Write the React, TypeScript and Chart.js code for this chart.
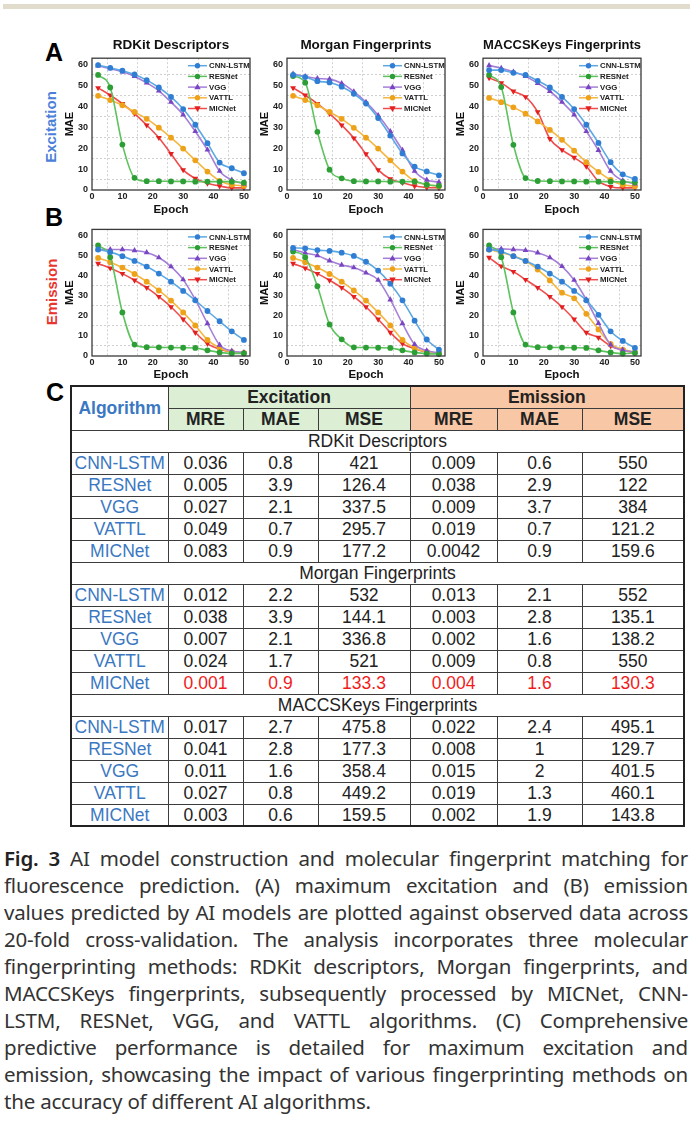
import React, { useEffect, useRef } from 'react';
import { Chart, registerables } from 'chart.js';

Chart.register(...registerables);

const FONT = "'Liberation Sans', Arial, Helvetica, sans-serif";

// ---------- chart data ----------
const EPOCHS = [2, 6, 10, 14, 18, 22, 26, 30, 34, 38, 42, 46, 50];
const MODELS = ['CNN-LSTM', 'RESNet', 'VGG', 'VATTL', 'MICNet'];
const FINGERPRINTS = ['RDKit Descriptors', 'Morgan Fingerprints', 'MACCSKeys Fingerprints'];
const X_MIN = 0, X_MAX = 52, X_STEP = 10;
const Y_MIN = 0, Y_MAX = 63, Y_STEP = 10;

// (A) Excitation
const EX_RDKIT_CNN = [59.7, 58.4, 57, 55.2, 52.5, 49, 44.5, 38.7, 31.2, 22.4, 13.1, 10.4, 8];
const EX_RDKIT_RES = [55, 49, 21.7, 5.8, 4.2, 4.2, 4.1, 4.1, 4, 4, 4, 4, 3.5];
const EX_RDKIT_VGG = [59.4, 58, 56.5, 54.3, 51.2, 47.4, 42, 36, 28, 19.2, 9, 4.8, 3];
const EX_RDKIT_VATTL = [45, 43, 40.5, 37.3, 34, 29.8, 25, 19.8, 14.2, 8.8, 4.4, 2.5, 2];
const EX_RDKIT_MIC = [48.8, 45.3, 41.3, 36.5, 31, 25, 17.3, 9.6, 5.5, 3.2, 1.9, 1, 1];

const EX_MORGAN_CNN = [55, 54, 52, 51.4, 49.4, 46, 41.3, 34.4, 26, 17.5, 11.2, 8.9, 7];
const EX_MORGAN_RES = [54.5, 51.3, 27.8, 9.7, 5.6, 4.2, 4.1, 4.1, 4, 4, 4, 2.5, 2];
const EX_MORGAN_VGG = [55.5, 54.3, 53.3, 53, 51, 47, 42, 35.7, 28, 19, 9, 4.8, 3.8];
const EX_MORGAN_VATTL = [45, 43, 40.5, 37.3, 34, 29.7, 25, 19.8, 14.2, 8.8, 4.3, 2.5, 1.8];
const EX_MORGAN_MIC = [48.8, 45.3, 41.3, 36.5, 31, 24.8, 17.2, 9.6, 5.3, 3.5, 1.9, 1.2, 1];

const EX_MACCS_CNN = [57.3, 57.3, 56, 55, 52.2, 49, 44.5, 38.7, 31.2, 22.5, 13.3, 7.5, 5.3];
const EX_MACCS_RES = [55, 49.2, 21.6, 5.7, 4.3, 4.2, 4.1, 4.1, 4, 4, 4, 3.8, 3.7];
const EX_MACCS_VGG = [59.5, 58.2, 56.5, 54.3, 51, 47.2, 42, 36, 28, 19, 9, 4.5, 3];
const EX_MACCS_VATTL = [44, 42, 39.5, 36.5, 32.8, 28.7, 24, 18.8, 13.3, 8.7, 4.8, 2.5, 1.8];
const EX_MACCS_MIC = [53.6, 51.2, 47.2, 44.5, 37.3, 24.5, 19.2, 15.5, 11.3, 4.2, 1.6, 1, 1];

// (B) Emission
const EM_RDKIT_CNN = [53, 51.7, 49.7, 47.3, 44.5, 41, 37, 32.4, 27.7, 22.4, 17.3, 12.3, 8];
const EM_RDKIT_RES = [55, 49.2, 21.7, 5.7, 4.4, 4.3, 4.2, 4.1, 4, 2.8, 1.8, 1.3, 1.3];
const EM_RDKIT_VGG = [53, 53, 53, 52.5, 51.5, 49, 44.5, 38, 28, 16.2, 5.5, 2.5, 1.8];
const EM_RDKIT_VATTL = [48.8, 46.7, 44, 40.8, 37, 32.6, 27.6, 21.7, 15.2, 8, 4, 2, 1.5];
const EM_RDKIT_MIC = [46, 43.7, 41, 37.7, 34, 29.5, 24.4, 18.3, 11.7, 6.2, 3.4, 2, 1.5];

const EM_MORGAN_CNN = [53.8, 53.6, 52.7, 52.3, 51.4, 49.8, 46.9, 42.5, 36, 27.7, 17.6, 8.2, 3.2];
const EM_MORGAN_RES = [52, 49.2, 34.7, 15.7, 8.3, 4.3, 4.2, 4.1, 4, 2.8, 1.8, 1.2, 1];
const EM_MORGAN_VGG = [53, 51.3, 50, 47.4, 45.3, 44, 41.4, 37.8, 28, 16.2, 5.8, 2.7, 1.5];
const EM_MORGAN_VATTL = [48.8, 46.7, 44, 40.8, 37, 32.6, 27.6, 21.7, 15.2, 8, 4, 2, 1.5];
const EM_MORGAN_MIC = [46, 43.7, 41, 37.7, 34, 29.5, 24.4, 18.3, 11.7, 6.2, 3.6, 2, 1.5];

const EM_MACCS_CNN = [53, 52, 49.7, 47.3, 44.5, 41, 37, 32.4, 27.7, 20.5, 12.3, 7.5, 4];
const EM_MACCS_RES = [55, 49.2, 21.7, 5.7, 4.4, 4.3, 4.2, 4.1, 4, 2.8, 1.8, 1.2, 1.5];
const EM_MACCS_VGG = [53, 53.3, 53, 52.6, 51.4, 49, 44.6, 37.8, 28, 16.3, 5.6, 3, 2];
const EM_MACCS_VATTL = [53, 51.5, 49.7, 47.3, 43, 37.6, 31.5, 28.7, 21, 13.2, 6, 3.2, 2];
const EM_MACCS_MIC = [49, 44.7, 42, 38, 34, 29.5, 24.4, 18.3, 11.7, 9.2, 5, 3, 1.5];

// ---------- table data (C) ----------
const TABLE_METRICS = ['MRE', 'MAE', 'MSE'];
const RDKIT_ROWS = [
  ['0.036', '0.8', '421', '0.009', '0.6', '550'],
  ['0.005', '3.9', '126.4', '0.038', '2.9', '122'],
  ['0.027', '2.1', '337.5', '0.009', '3.7', '384'],
  ['0.049', '0.7', '295.7', '0.019', '0.7', '121.2'],
  ['0.083', '0.9', '177.2', '0.0042', '0.9', '159.6'],
];
const MORGAN_ROWS = [
  ['0.012', '2.2', '532', '0.013', '2.1', '552'],
  ['0.038', '3.9', '144.1', '0.003', '2.8', '135.1'],
  ['0.007', '2.1', '336.8', '0.002', '1.6', '138.2'],
  ['0.024', '1.7', '521', '0.009', '0.8', '550'],
  ['0.001', '0.9', '133.3', '0.004', '1.6', '130.3'],
];
const MACCS_ROWS = [
  ['0.017', '2.7', '475.8', '0.022', '2.4', '495.1'],
  ['0.041', '2.8', '177.3', '0.008', '1', '129.7'],
  ['0.011', '1.6', '358.4', '0.015', '2', '401.5'],
  ['0.027', '0.8', '449.2', '0.019', '1.3', '460.1'],
  ['0.003', '0.6', '159.5', '0.002', '1.9', '143.8'],
];
const HIGHLIGHT = { group: 1, row: 4 };

const CAPTION_LINES = [
  'AI model construction and molecular fingerprint matching for',
  'fluorescence prediction. (A) maximum excitation and (B) emission',
  'values predicted by AI models are plotted against observed data across',
  '20-fold cross-validation. The analysis incorporates three molecular',
  'fingerprinting methods: RDKit descriptors, Morgan fingerprints, and',
  'MACCSKeys fingerprints, subsequently processed by MICNet, CNN-',
  'LSTM, RESNet, VGG, and VATTL algorithms. (C) Comprehensive',
  'predictive performance is detailed for maximum excitation and',
  'emission, showcasing the impact of various fingerprinting methods on',
  'the accuracy of different AI algorithms.',
];

// ---------- styles ----------
const LINE_COLORS = ['#5ca8e4', '#5ec35e', '#a47fd8', '#f5b740', '#f04c4c'];
const POINT_COLORS = ['#2f7ed3', '#2c9e35', '#7a45c2', '#eea21a', '#e3201f'];
const POINT_SHAPES = ['circle', 'circle', 'triangle', 'circle', 'triangle'];
const POINT_ROT = [0, 0, 0, 0, 180];

const PANELS = [
  { row: 0, col: 0, title: FINGERPRINTS[0], series: [EX_RDKIT_CNN, EX_RDKIT_RES, EX_RDKIT_VGG, EX_RDKIT_VATTL, EX_RDKIT_MIC] },
  { row: 0, col: 1, title: FINGERPRINTS[1], series: [EX_MORGAN_CNN, EX_MORGAN_RES, EX_MORGAN_VGG, EX_MORGAN_VATTL, EX_MORGAN_MIC] },
  { row: 0, col: 2, title: FINGERPRINTS[2], series: [EX_MACCS_CNN, EX_MACCS_RES, EX_MACCS_VGG, EX_MACCS_VATTL, EX_MACCS_MIC] },
  { row: 1, col: 0, title: '', series: [EM_RDKIT_CNN, EM_RDKIT_RES, EM_RDKIT_VGG, EM_RDKIT_VATTL, EM_RDKIT_MIC] },
  { row: 1, col: 1, title: '', series: [EM_MORGAN_CNN, EM_MORGAN_RES, EM_MORGAN_VGG, EM_MORGAN_VATTL, EM_MORGAN_MIC] },
  { row: 1, col: 2, title: '', series: [EM_MACCS_CNN, EM_MACCS_RES, EM_MACCS_VGG, EM_MACCS_VATTL, EM_MACCS_MIC] },
];

const PLOT_LEFTS = [92, 287, 483];
const ROW_TOPS = [58, 224];
const PLOT_W = 158;
const PLOT_H = 132;
const Y_AXIS_W = 32;
const PAD_R = 4;
const TITLE_H = 23;
const NO_TITLE_PAD = 4;

function drawMarker(ctx: CanvasRenderingContext2D, shape: string, rot: number, x: number, y: number, r: number, color: string) {
  ctx.save();
  ctx.fillStyle = color;
  ctx.translate(x, y);
  ctx.rotate((rot * Math.PI) / 180);
  ctx.beginPath();
  if (shape === 'triangle') {
    const s = r * 1.25;
    ctx.moveTo(0, -s);
    ctx.lineTo(s * 0.95, s * 0.65);
    ctx.lineTo(-s * 0.95, s * 0.65);
    ctx.closePath();
  } else {
    ctx.arc(0, 0, r, 0, Math.PI * 2);
  }
  ctx.fill();
  ctx.restore();
}

const framePlugin = {
  id: 'frameAndLegend',
  afterDatasetsDraw(chart: any) {
    const { ctx, chartArea } = chart;
    ctx.save();
    ctx.strokeStyle = '#3a3a3a';
    ctx.lineWidth = 1.3;
    ctx.strokeRect(chartArea.left, chartArea.top, chartArea.right - chartArea.left, chartArea.bottom - chartArea.top);
    ctx.font = `bold 7.8px ${FONT}`;
    ctx.textBaseline = 'middle';
    ctx.textAlign = 'left';
    chart.data.datasets.forEach((ds: any, i: number) => {
      const y = chartArea.top + 7.5 + i * 10.7;
      const x0 = chartArea.right - 62;
      const x1 = chartArea.right - 43;
      ctx.strokeStyle = ds.borderColor;
      ctx.lineWidth = 1.5;
      ctx.beginPath();
      ctx.moveTo(x0, y);
      ctx.lineTo(x1, y);
      ctx.stroke();
      drawMarker(ctx, ds.pointStyle, ds.pointRotation || 0, (x0 + x1) / 2, y, 2.7, ds.pointBackgroundColor);
      ctx.fillStyle = '#222';
      ctx.fillText(ds.label, chartArea.right - 41, y + 0.5);
    });
    ctx.restore();
  },
};

function Panel({ panel }: { panel: any }) {
  const ref = useRef<HTMLCanvasElement>(null);
  const hasTitle = !!panel.title;
  const topPad = hasTitle ? TITLE_H : NO_TITLE_PAD;
  const xAxisH = panel.row === 0 ? 27 : 26;
  const W = Y_AXIS_W + PLOT_W + PAD_R;
  const H = topPad + PLOT_H + xAxisH;
  const left = PLOT_LEFTS[panel.col] - Y_AXIS_W;
  const top = ROW_TOPS[panel.row] - topPad;

  useEffect(() => {
    const datasets = MODELS.map((name, i) => ({
      label: name,
      data: EPOCHS.map((e, k) => ({ x: e, y: panel.series[i][k] })),
      borderColor: LINE_COLORS[i],
      backgroundColor: POINT_COLORS[i],
      pointBackgroundColor: POINT_COLORS[i],
      pointBorderColor: POINT_COLORS[i],
      pointBorderWidth: 0,
      pointStyle: POINT_SHAPES[i],
      pointRotation: POINT_ROT[i],
      pointRadius: POINT_SHAPES[i] === 'triangle' ? 3.4 : 2.9,
      borderWidth: 1.6,
      cubicInterpolationMode: 'monotone' as const,
      clip: false as any,
    }));
    const tickFont = { family: FONT, size: 9, weight: 'bold' as const };
    const chart = new Chart(ref.current as HTMLCanvasElement, {
      type: 'line',
      data: { datasets },
      options: {
        responsive: false,
        animation: false,
        devicePixelRatio: 1,
        layout: { padding: { top: hasTitle ? 0 : NO_TITLE_PAD, right: PAD_R, left: 0, bottom: 0 } },
        plugins: {
          legend: { display: false },
          tooltip: { enabled: false },
          title: {
            display: hasTitle,
            text: panel.title,
            fullSize: false,
            color: '#111',
            font: { family: FONT, size: 13.5, weight: 'bold' },
            padding: { top: 2, bottom: 5 },
          },
        },
        scales: {
          x: {
            type: 'linear',
            min: X_MIN,
            max: X_MAX,
            ticks: { stepSize: X_STEP, includeBounds: false, font: tickFont, color: '#222', padding: 1, maxRotation: 0 },
            grid: { offset: true, color: '#c4c4c4', drawTicks: false, lineWidth: 0.8 },
            border: { display: false, dash: [2, 2] },
            title: { display: true, text: 'Epoch', color: '#111', font: { family: FONT, size: 11.5, weight: 'bold' }, padding: { top: 0, bottom: 0 } },
            afterFit: (s: any) => { s.height = xAxisH; },
          },
          y: {
            type: 'linear',
            min: Y_MIN,
            max: Y_MAX,
            ticks: { stepSize: Y_STEP, includeBounds: false, font: tickFont, color: '#222', padding: 4 },
            grid: { offset: true, color: '#c4c4c4', drawTicks: false, lineWidth: 0.8 },
            border: { display: false, dash: [2, 2] },
            title: { display: true, text: 'MAE', color: '#111', font: { family: FONT, size: 11, weight: 'bold' }, padding: { top: 3, bottom: 0 } },
            afterFit: (s: any) => { s.width = Y_AXIS_W; },
          },
        },
      },
      plugins: [framePlugin],
    });
    return () => chart.destroy();
  }, []);

  return (
    <canvas
      ref={ref}
      width={W}
      height={H}
      style={{ position: 'absolute', left, top, width: W, height: H }}
    />
  );
}

const COL_WIDTHS = [97, 75, 75, 92, 87, 85, 102];
const BORDER = '1px solid #3c3c3c';
const GREEN = '#dcefd5';
const ORANGE = '#f8c7a5';
const BLUE_TXT = '#3b78c2';

function MetricsTable() {
  const groups = [RDKIT_ROWS, MORGAN_ROWS, MACCS_ROWS];
  const base: React.CSSProperties = {
    border: BORDER,
    padding: 0,
    textAlign: 'center',
    verticalAlign: 'middle',
    whiteSpace: 'nowrap',
    lineHeight: '20px',
    overflow: 'hidden',
  };
  return (
    <table
      style={{
        position: 'absolute',
        left: 70,
        top: 385,
        width: 613,
        borderCollapse: 'collapse',
        tableLayout: 'fixed',
        fontFamily: FONT,
        fontSize: 17.5,
        color: '#222',
        border: '2px solid #222',
      }}
    >
      <colgroup>
        {COL_WIDTHS.map((w, i) => (
          <col key={i} style={{ width: w }} />
        ))}
      </colgroup>
      <tbody>
        <tr style={{ height: 22 }}>
          <td rowSpan={2} style={{ ...base, color: BLUE_TXT, fontWeight: 'bold', fontSize: 17.5 }}>Algorithm</td>
          <td colSpan={3} style={{ ...base, background: GREEN, fontWeight: 'bold', fontSize: 17.5 }}>Excitation</td>
          <td colSpan={3} style={{ ...base, background: ORANGE, fontWeight: 'bold', fontSize: 17.5 }}>Emission</td>
        </tr>
        <tr style={{ height: 22 }}>
          {[0, 1].map((g) =>
            TABLE_METRICS.map((m) => (
              <td key={g + m} style={{ ...base, background: g === 0 ? GREEN : ORANGE, fontWeight: 'bold', fontSize: 17.5 }}>
                {m}
              </td>
            ))
          )}
        </tr>
        {groups.map((rows, gi) => (
          <React.Fragment key={gi}>
            <tr style={{ height: 22 }}>
              <td colSpan={7} style={{ ...base }}>{FINGERPRINTS[gi]}</td>
            </tr>
            {rows.map((vals, ri) => {
              const hl = HIGHLIGHT.group === gi && HIGHLIGHT.row === ri;
              return (
                <tr key={ri} style={{ height: 22 }}>
                  <td style={{ ...base, color: BLUE_TXT }}>{MODELS[ri]}</td>
                  {vals.map((v, vi) => (
                    <td key={vi} style={{ ...base, color: hl ? '#f01c1c' : '#222' }}>{v}</td>
                  ))}
                </tr>
              );
            })}
          </React.Fragment>
        ))}
      </tbody>
    </table>
  );
}

export default function App() {
  const abs: React.CSSProperties = { position: 'absolute' };
  const letter: React.CSSProperties = { ...abs, fontFamily: FONT, fontWeight: 'bold', fontSize: 25, lineHeight: '25px', color: '#000' };
  const sideLabel: React.CSSProperties = {
    ...abs,
    fontFamily: FONT,
    fontWeight: 'bold',
    fontSize: 15,
    whiteSpace: 'nowrap',
    transform: 'translate(-50%, -50%) rotate(-90deg)',
  };
  return (
    <div style={{ position: 'absolute', left: 0, top: 0, width: 693, height: 1122, background: '#fff', overflow: 'hidden' }}>
      <div style={{ ...abs, left: 3, top: 4, width: 687, height: 5, background: '#e1dccb' }} />
      <div style={{ ...letter, left: 45, top: 40 }}>A</div>
      <div style={{ ...letter, left: 45, top: 205 }}>B</div>
      <div style={{ ...letter, left: 46, top: 380 }}>C</div>
      <div style={{ ...sideLabel, left: 50, top: 127, color: '#4a80d8' }}>Excitation</div>
      <div style={{ ...sideLabel, left: 51, top: 292, color: '#e8352e' }}>Emission</div>
      {PANELS.map((p, i) => (
        <Panel key={i} panel={p} />
      ))}
      <MetricsTable />
      <div
        style={{
          ...abs,
          left: 4,
          top: 845,
          width: 684,
          fontFamily: "'Noto Sans', 'Open Sans', sans-serif",
          fontSize: 20.5,
          lineHeight: '27px',
          color: '#333',
        }}
      >
        {CAPTION_LINES.map((line, i) => (
          <div
            key={i}
            style={{
              textAlign: i === CAPTION_LINES.length - 1 ? 'left' : 'justify',
              textAlignLast: i === CAPTION_LINES.length - 1 ? 'left' : 'justify',
              height: 27,
              whiteSpace: 'normal',
              letterSpacing: '-0.2px',
            }}
          >
            {i === 0 && <span style={{ fontWeight: 600, color: '#222', marginRight: 10 }}>Fig. 3</span>}
            {line}
          </div>
        ))}
      </div>
    </div>
  );
}
